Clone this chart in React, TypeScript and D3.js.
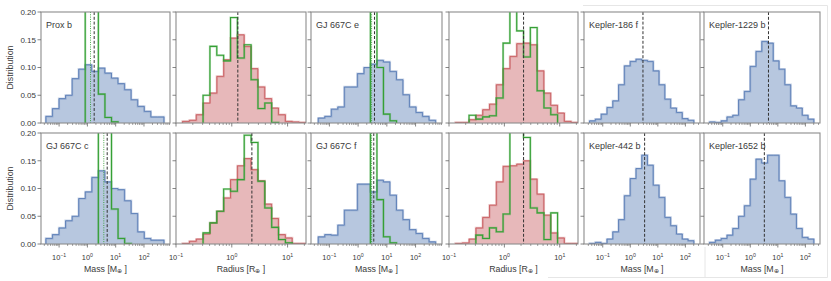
import * as d3 from "d3";

// bin ranges, log10 of the quantity, 18 bins each
const N_BINS = 18;
const massBinsCol1 = [-1.47, 2.71];
const massBinsCol3 = [-1.39, 2.7];
const radiusBins = [-0.884, 1.33];
const keplerBins = [-1.48, 2.31];

// axis domains (log10)
const massDomain = [-1.64, 2.92];
const radiusDomain = [-1, 1.33];
const keplerDomain = [-1.68, 2.53];

const yTicks = [0, 0.05, 0.1, 0.15, 0.2];
const yTickLabels = ["0.00", "0.05", "0.10", "0.15", "0.20"];
const massTicks = [-1, 0, 1, 2];
const radiusTicks = [-1, 0, 1];

const planets = ["Prox b", "GJ 667C c", "GJ 667C e", "GJ 667C f"];
const keplerPlanets = ["Kepler-186 f", "Kepler-1229 b", "Kepler-442 b", "Kepler-1652 b"];

// mass distributions (blue) and the narrow green ones
const proxBMass = [0.012, 0.026, 0.044, 0.05, 0.08, 0.097, 0.105, 0.093, 0.099, 0.09, 0.081, 0.071, 0.06, 0.042, 0.03, 0.021, 0.011, 0.011];
const proxBMassGreen = [0, 0, 0, 0, 0, 0, 0.5, 0.5, 0.052, 0.01, 0.002, 0, 0, 0, 0, 0, 0, 0];
const gj667cMass = [0.01, 0.017, 0.029, 0.042, 0.05, 0.082, 0.094, 0.12, 0.132, 0.112, 0.1, 0.098, 0.078, 0.055, 0.022, 0.01, 0.007, 0.007];
const gj667cMassGreen = [0, 0, 0, 0, 0, 0, 0, 0, 0.5, 0.5, 0.063, 0.01, 0.001, 0, 0, 0, 0, 0];
const gj667eMass = [0.009, 0.012, 0.025, 0.029, 0.065, 0.065, 0.089, 0.1, 0.106, 0.113, 0.11, 0.093, 0.078, 0.051, 0.029, 0.019, 0.012, 0.005];
const gj667eMassGreen = [0, 0, 0, 0, 0, 0, 0, 0, 0.5, 0.1, 0.016, 0.004, 0, 0, 0, 0, 0, 0];
const gj667fMass = [0.013, 0.017, 0.016, 0.034, 0.061, 0.061, 0.108, 0.108, 0.094, 0.115, 0.112, 0.088, 0.061, 0.044, 0.026, 0.019, 0.01, 0.004];
const gj667fMassGreen = [0, 0, 0, 0, 0, 0, 0, 0, 0.5, 0.08, 0.013, 0.002, 0, 0, 0, 0, 0, 0];

// radius distributions (red) and green
const proxBRadius = [0.003, 0.005, 0.015, 0.036, 0.054, 0.084, 0.114, 0.153, 0.159, 0.138, 0.098, 0.065, 0.044, 0.027, 0.015, 0.003, 0.002, 0.001];
const proxBRadiusGreen = [0, 0, 0, 0.05, 0.138, 0.122, 0.112, 0.19, 0.117, 0.141, 0.078, 0.026, 0.036, 0.001, 0, 0, 0, 0];
const gj667cRadius = [0.001, 0.005, 0.009, 0.018, 0.038, 0.059, 0.083, 0.116, 0.141, 0.154, 0.134, 0.114, 0.072, 0.046, 0.017, 0.011, 0.001, 0.001];
const gj667cRadiusGreen = [0, 0, 0, 0.02, 0.038, 0.059, 0.099, 0.095, 0.116, 0.196, 0.183, 0.113, 0.065, 0.03, 0.008, 0.002, 0, 0];
const gj667eRadius = [0.001, 0.001, 0.006, 0.014, 0.024, 0.034, 0.069, 0.098, 0.12, 0.143, 0.144, 0.141, 0.094, 0.054, 0.032, 0.018, 0.003, 0.001];
const gj667eRadiusGreen = [0, 0, 0.014, 0.007, 0.011, 0.013, 0.045, 0.144, 0.5, 0.166, 0.119, 0.172, 0.058, 0.027, 0.015, 0, 0, 0];
const gj667fRadius = [0.001, 0.002, 0.009, 0.029, 0.048, 0.07, 0.112, 0.14, 0.141, 0.144, 0.15, 0.117, 0.09, 0.052, 0.02, 0.011, 0.001, 0.001];
const gj667fRadiusGreen = [0, 0, 0, 0.016, 0.01, 0.029, 0.022, 0.054, 0.5, 0.5, 0.192, 0.065, 0.056, 0.008, 0.056, 0, 0, 0];

// kepler mass distributions
const k186fMass = [0.004, 0.007, 0.016, 0.028, 0.04, 0.069, 0.103, 0.111, 0.115, 0.113, 0.111, 0.094, 0.069, 0.043, 0.027, 0.019, 0.008, 0.005];
const k1229bMass = [0.002, 0.001, 0.004, 0.011, 0.014, 0.042, 0.057, 0.102, 0.129, 0.147, 0.144, 0.112, 0.097, 0.069, 0.031, 0.027, 0.014, 0.007];
const k442bMass = [0.001, 0.003, 0.001, 0.009, 0.022, 0.044, 0.087, 0.118, 0.136, 0.16, 0.142, 0.106, 0.084, 0.048, 0.033, 0.018, 0.009, 0.006];
const k1652bMass = [0.003, 0.007, 0.01, 0.016, 0.028, 0.05, 0.069, 0.117, 0.153, 0.146, 0.16, 0.16, 0.114, 0.084, 0.054, 0.028, 0.012, 0.009];

// medians (log10): dashed black, dotted green
const massMedian = [0.24, 0.7, 0.57, 0.545];
const massMedianGreen = [0.11, 0.58, 0.47, 0.47];
const radiusMedian = [0.108, 0.36, 0.347, 0.347];
const keplerMedian = [0.46, 0.66, 0.52, 0.51];

const BLUE = "#4c72b0";
const RED = "#c44e52";
const GREEN = "#35a035";
const FONT = "Liberation Sans, Arial, sans-serif";
const TXT = "#3a3a3a";

type Hist = { range: number[]; values: number[]; kind: "blue" | "red" | "green" };

interface PanelProps {
  id: string;
  x0: number;
  x1: number;
  y0: number;
  y1: number;
  domain: number[];
  ticks: number[];
  hists: Hist[];
  dashed: number;
  dotted?: number;
  label: string;
  yLabels: boolean;
  xLabels: boolean;
  xTitle?: string;
}

const edgesOf = (r: number[]) => d3.range(N_BINS + 1).map((i) => r[0] + (i * (r[1] - r[0])) / N_BINS);

const Panel = (p: PanelProps) => {
  const x = d3.scaleLog().domain([10 ** p.domain[0], 10 ** p.domain[1]]).range([p.x0, p.x1]);
  const xl = (e: number) => x(10 ** e);
  const y = d3.scaleLinear().domain([0, 0.2]).range([p.y1, p.y0]);

  const stepPath = (h: Hist) => {
    const edges = edgesOf(h.range);
    let i0 = 0;
    let i1 = h.values.length - 1;
    while (i0 < i1 && h.values[i0] === 0) i0++;
    while (i1 > i0 && h.values[i1] === 0) i1--;
    const pts: [number, number][] = [[xl(edges[i0]), y(0)]];
    for (let i = i0; i <= i1; i++) {
      pts.push([xl(edges[i]), y(h.values[i])]);
      pts.push([xl(edges[i + 1]), y(h.values[i])]);
    }
    pts.push([xl(edges[i1 + 1]), y(0)]);
    return d3.line()(pts) ?? "";
  };

  const minor: number[] = [];
  for (let e = Math.floor(p.domain[0]); e <= Math.ceil(p.domain[1]); e++) {
    for (let k = 2; k <= 9; k++) {
      const v = e + Math.log10(k);
      if (v > p.domain[0] && v < p.domain[1]) minor.push(v);
    }
  }

  return (
    <g>
      <defs>
        <clipPath id={p.id}>
          <rect x={p.x0} y={p.y0} width={p.x1 - p.x0} height={p.y1 - p.y0} />
        </clipPath>
      </defs>
      <g clipPath={`url(#${p.id})`}>
        {p.hists.map((h, i) => {
          const d = stepPath(h);
          if (h.kind === "green")
            return (
              <g key={i}>
                <path d={d} fill="none" stroke={GREEN} strokeOpacity={0.35} strokeWidth={2.2} />
                <path d={d} fill="none" stroke={GREEN} strokeWidth={1.1} />
              </g>
            );
          const c = h.kind === "blue" ? BLUE : RED;
          return (
            <g key={i}>
              <path d={d + "Z"} fill={c} fillOpacity={0.4} />
              <path d={d} fill="none" stroke={c} strokeOpacity={0.3} strokeWidth={2.2} />
              <path d={d} fill="none" stroke={c} strokeOpacity={0.85} strokeWidth={0.9} />
            </g>
          );
        })}
        {p.dotted !== undefined && (
          <line x1={xl(p.dotted)} x2={xl(p.dotted)} y1={p.y0} y2={p.y1} stroke={GREEN} strokeWidth={0.9} strokeDasharray="1,1.3" />
        )}
        <line x1={xl(p.dashed)} x2={xl(p.dashed)} y1={p.y0} y2={p.y1} stroke="#333" strokeWidth={1} strokeDasharray="3,1.8" />
      </g>
      <rect x={p.x0} y={p.y0} width={p.x1 - p.x0} height={p.y1 - p.y0} fill="none" stroke="#8c8c8c" strokeWidth={1.1} />
      {yTicks.map((t, i) => (
        <g key={i}>
          <line x1={p.x0 - 3.5} x2={p.x0} y1={y(t)} y2={y(t)} stroke="#666" strokeWidth={0.8} />
          {p.yLabels && (
            <text x={p.x0 - 5} y={y(t) + 2.8} fontSize={8} textAnchor="end" fill={TXT} fontFamily={FONT}>
              {yTickLabels[i]}
            </text>
          )}
        </g>
      ))}
      {minor.map((v, i) => (
        <line key={i} x1={xl(v)} x2={xl(v)} y1={p.y1} y2={p.y1 + 2} stroke="#666" strokeWidth={0.6} />
      ))}
      {p.ticks.map((t) => (
        <g key={t}>
          <line x1={xl(t)} x2={xl(t)} y1={p.y1} y2={p.y1 + 3.5} stroke="#666" strokeWidth={0.8} />
          {p.xLabels && (
            <text x={xl(t)} y={p.y1 + 16} fontSize={7.4} textAnchor="middle" fill={TXT} fontFamily={FONT}>
              10
              <tspan dy={-3.5} fontSize={5.2}>
                {t < 0 ? `\u2212${-t}` : `${t}`}
              </tspan>
            </text>
          )}
        </g>
      ))}
      {p.xLabels && p.xTitle && (
        <text x={(p.x0 + p.x1) / 2} y={p.y1 + 27.5} fontSize={8.8} textAnchor="middle" fill={TXT} fontFamily={FONT}>
          {p.xTitle} [{p.xTitle === "Mass" ? "M" : "R"}
          <tspan dy={1.8} fontSize={6}>
            {"\u2295"}
          </tspan>
          <tspan dy={-1.8}> ]</tspan>
        </text>
      )}
      <text x={p.x0 + 5} y={p.y0 + 16} fontSize={9} fill={TXT} fontFamily={FONT}>
        {p.label}
      </text>
    </g>
  );
};

const colX = [
  [41, 170],
  [176, 306],
  [311, 442],
  [449, 578],
];
const kepX = [
  [584, 700],
  [704, 820],
];
const rowY = [
  [12, 123],
  [133, 244],
];

export default function App() {
  // top row Prox b / GJ 667C e, bottom row GJ 667C c / GJ 667C f
  const massSets = [proxBMass, gj667cMass, gj667eMass, gj667fMass];
  const massGreen = [proxBMassGreen, gj667cMassGreen, gj667eMassGreen, gj667fMassGreen];
  const radSets = [proxBRadius, gj667cRadius, gj667eRadius, gj667fRadius];
  const radGreen = [proxBRadiusGreen, gj667cRadiusGreen, gj667eRadiusGreen, gj667fRadiusGreen];
  const kepSets = [k186fMass, k1229bMass, k442bMass, k1652bMass];

  const panels: JSX.Element[] = [];
  for (let row = 0; row < 2; row++) {
    for (let pair = 0; pair < 2; pair++) {
      const pi = pair * 2 + row; // 0 prox b, 1 c, 2 e, 3 f
      const mr = pair === 0 ? massBinsCol1 : massBinsCol3;
      const [mx0, mx1] = colX[pair * 2];
      const [rx0, rx1] = colX[pair * 2 + 1];
      const [y0, y1] = rowY[row];
      panels.push(
        <Panel
          key={`m${pi}`}
          id={`m${pi}`}
          x0={mx0}
          x1={mx1}
          y0={y0}
          y1={y1}
          domain={massDomain}
          ticks={massTicks}
          hists={[
            { range: mr, values: massSets[pi], kind: "blue" },
            { range: mr, values: massGreen[pi], kind: "green" },
          ]}
          dashed={massMedian[pi]}
          dotted={massMedianGreen[pi]}
          label={planets[pi]}
          yLabels={pair === 0}
          xLabels={row === 1}
          xTitle="Mass"
        />
      );
      panels.push(
        <Panel
          key={`r${pi}`}
          id={`r${pi}`}
          x0={rx0}
          x1={rx1}
          y0={y0}
          y1={y1}
          domain={radiusDomain}
          ticks={radiusTicks}
          hists={[
            { range: radiusBins, values: radSets[pi], kind: "red" },
            { range: radiusBins, values: radGreen[pi], kind: "green" },
          ]}
          dashed={radiusMedian[pi]}
          label=""
          yLabels={false}
          xLabels={row === 1}
          xTitle="Radius"
        />
      );
      const ki = row * 2 + pair;
      const [kx0, kx1] = kepX[pair];
      panels.push(
        <Panel
          key={`k${ki}`}
          id={`k${ki}`}
          x0={kx0}
          x1={kx1}
          y0={y0}
          y1={y1}
          domain={keplerDomain}
          ticks={massTicks}
          hists={[{ range: keplerBins, values: kepSets[ki], kind: "blue" }]}
          dashed={keplerMedian[ki]}
          label={keplerPlanets[ki]}
          yLabels={false}
          xLabels={row === 1}
          xTitle="Mass"
        />
      );
    }
  }

  return (
    <svg width={831} height={281} style={{ position: "absolute", left: 0, top: 0 }} fontFamily={FONT}>
      <rect width={831} height={281} fill="#fff" />
      <g stroke="#e6e6e6" strokeWidth={1} fill="none">
        <polyline points="583,5.5 827.5,5.5 827.5,277.5 548,277.5" />
        <line x1={705} x2={705} y1={247} y2={277.5} />
      </g>
      {panels}
      {rowY.map(([y0, y1], i) => (
        <text
          key={i}
          transform={`translate(12.5,${(y0 + y1) / 2}) rotate(-90)`}
          fontSize={8.8}
          textAnchor="middle"
          fill={TXT}
          fontFamily={FONT}
        >
          Distribution
        </text>
      ))}
    </svg>
  );
}
